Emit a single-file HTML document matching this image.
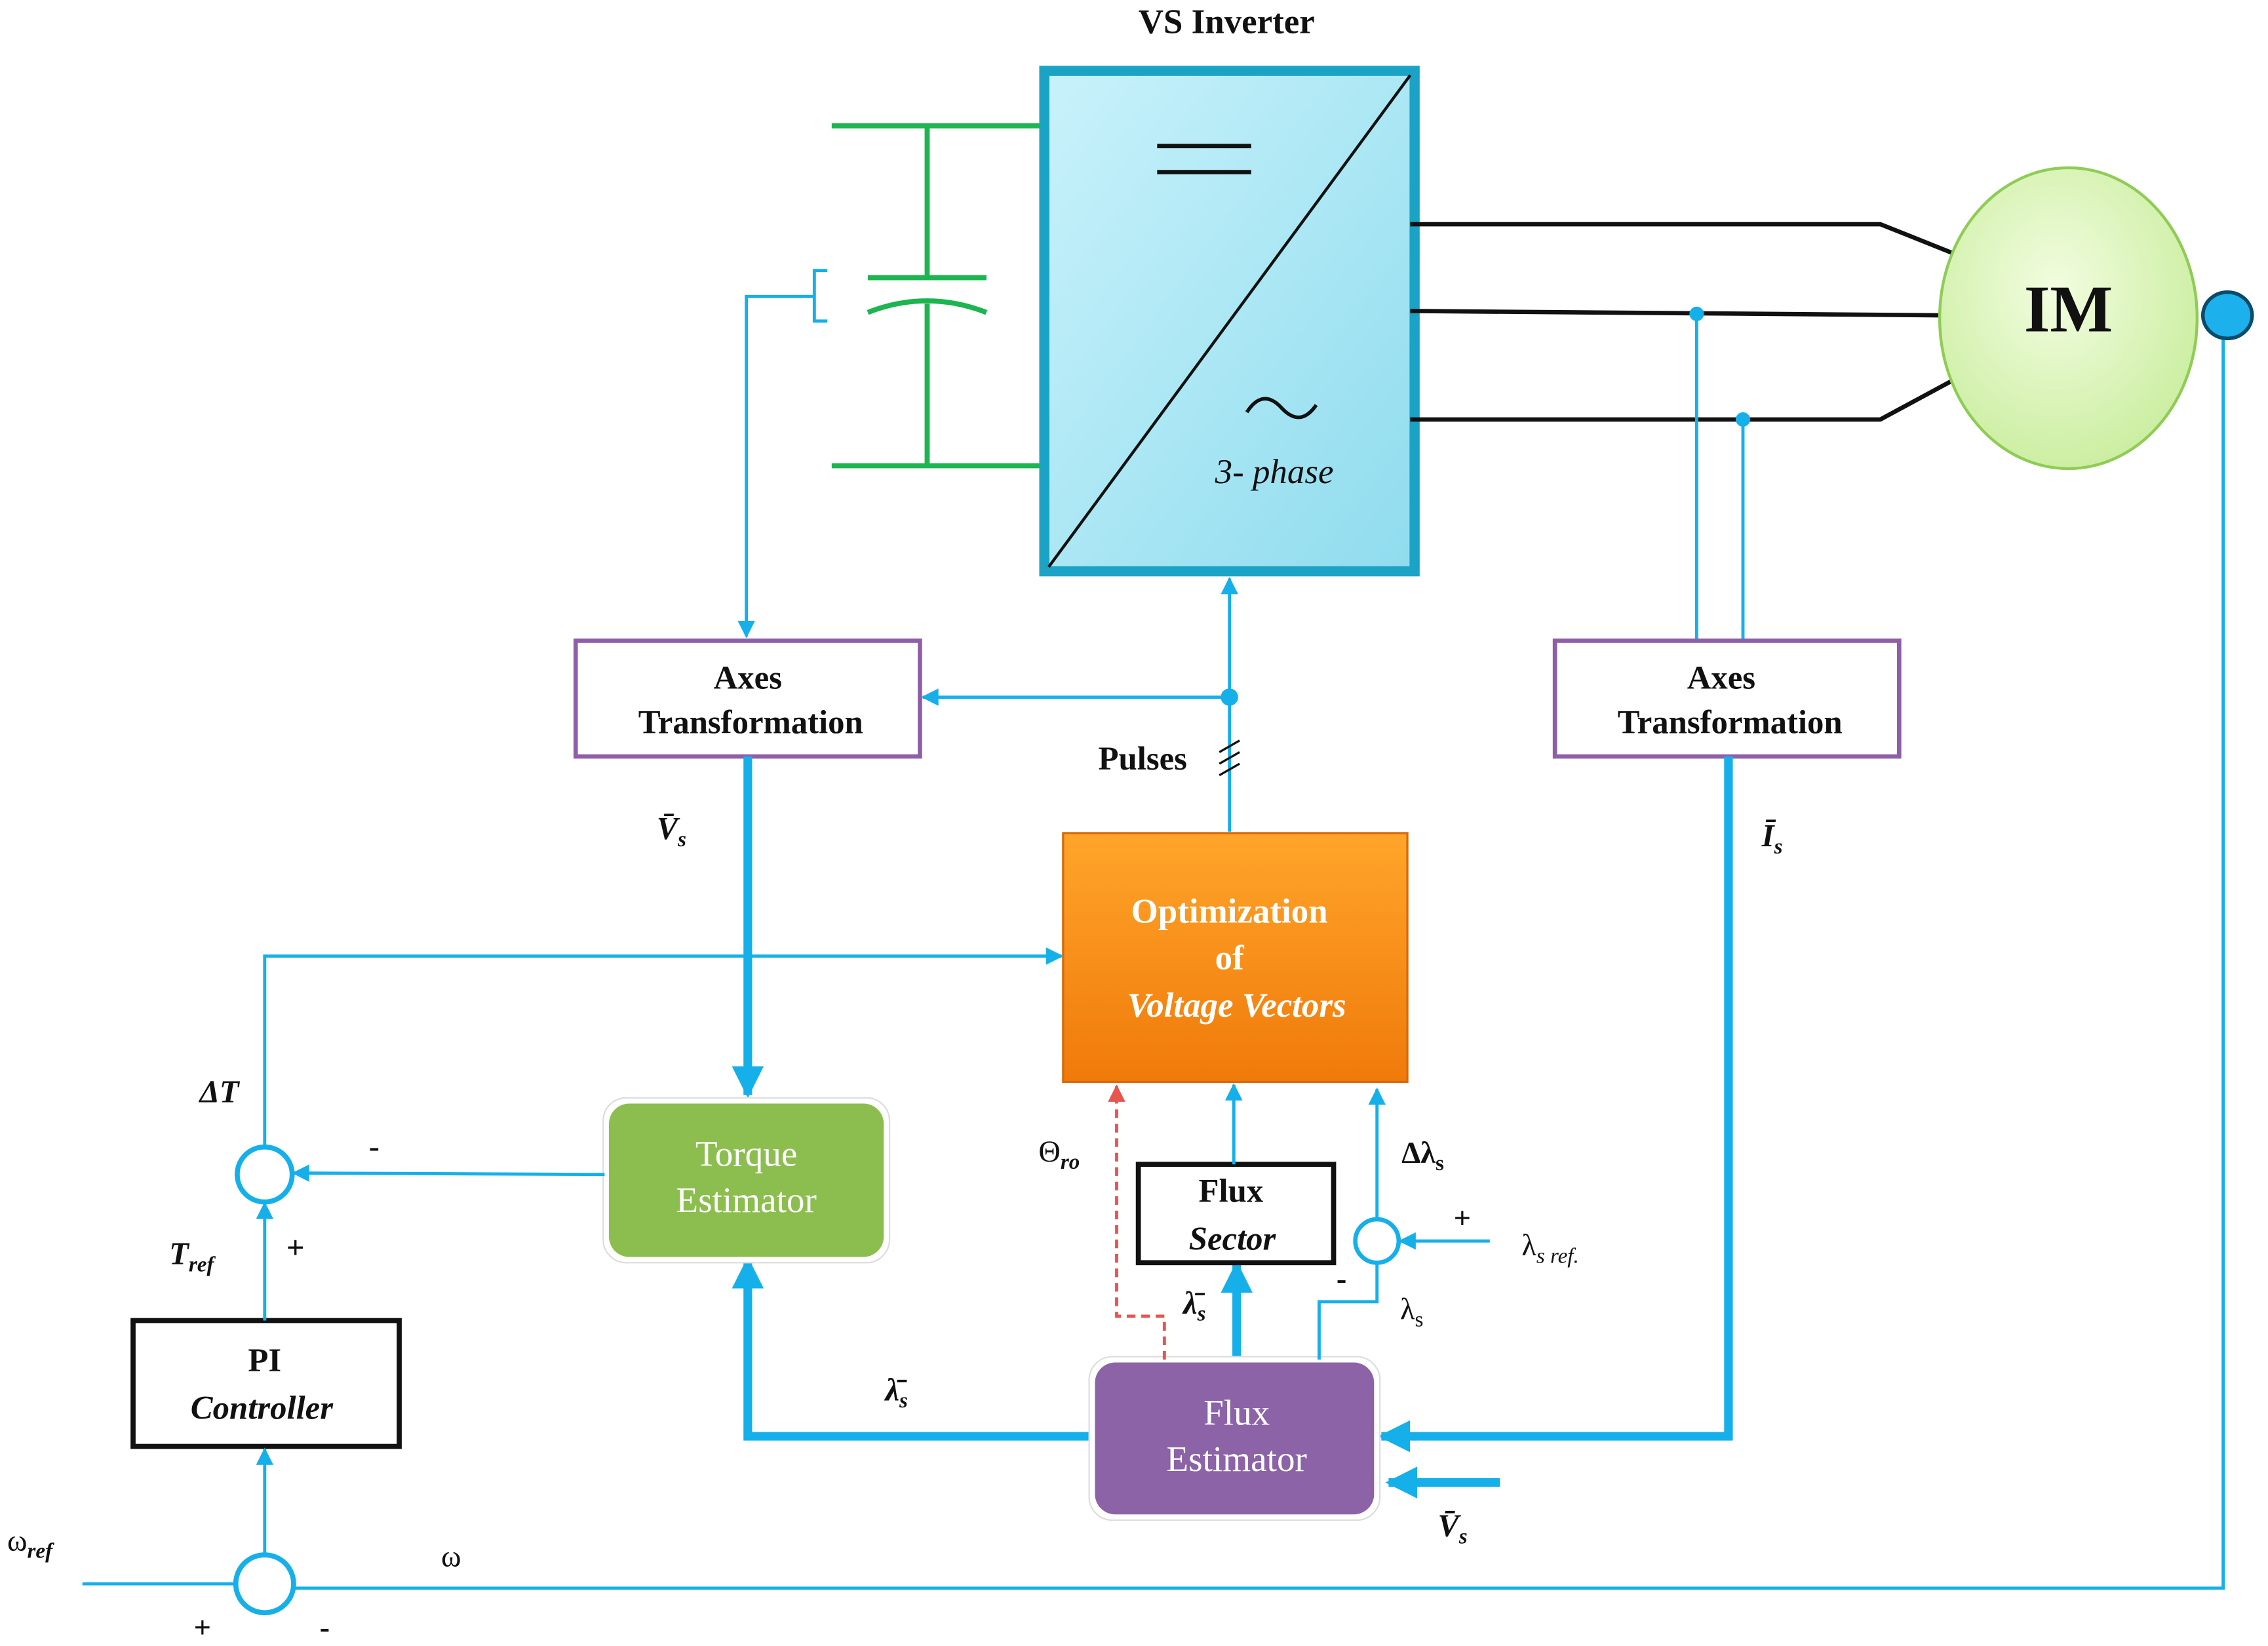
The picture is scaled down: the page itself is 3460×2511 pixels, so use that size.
<!DOCTYPE html>
<html><head><meta charset="utf-8"><style>html,body{margin:0;padding:0;background:#fff}svg{display:block}text{font-family:"Liberation Serif",serif}</style></head><body>
<svg width="3460" height="2511" viewBox="0 0 1568 1138" preserveAspectRatio="none" xmlns="http://www.w3.org/2000/svg">
<defs>
<linearGradient id="inv" x1="0" y1="0" x2="1" y2="1"><stop offset="0" stop-color="#c9f2fb"/><stop offset="1" stop-color="#8fdcee"/></linearGradient>
<linearGradient id="org" x1="0" y1="0" x2="0" y2="1"><stop offset="0" stop-color="#ffa52a"/><stop offset="1" stop-color="#f07a0a"/></linearGradient>
<radialGradient id="im" cx="0.45" cy="0.4" r="0.7"><stop offset="0" stop-color="#f2fde0"/><stop offset="1" stop-color="#c6ec98"/></radialGradient>
<marker id="a" viewBox="0 0 10 10" refX="9" refY="5" markerWidth="14" markerHeight="12" orient="auto" markerUnits="userSpaceOnUse"><path d="M0,0L10,5L0,10z" fill="#15b0ea"/></marker>
<marker id="at" viewBox="0 0 10 10" refX="9" refY="5" markerWidth="22" markerHeight="22" orient="auto" markerUnits="userSpaceOnUse"><path d="M0,0L10,5L0,10z" fill="#15b0ea"/></marker>
<marker id="ar" viewBox="0 0 10 10" refX="9" refY="5" markerWidth="14" markerHeight="12" orient="auto" markerUnits="userSpaceOnUse"><path d="M0,0L10,5L0,10z" fill="#e8544e"/></marker>
</defs>
<g fill="none" stroke="#15b0ea" stroke-width="2.2">
<g stroke="#1cb550" stroke-width="3.5"><path d="M575,87H720M575,322H720M641,87V192M641,210V322M600,192H682"/><path d="M600,216Q641,200 682,216"/></g>
<path d="M572,187H563V222H572M563,205H516V440" marker-end="url(#a)"/>
<rect x="722" y="49" width="256" height="346" fill="url(#inv)" stroke="#1ba3c6" stroke-width="7"/>
<path d="M725,392L975,52" stroke="#111" stroke-width="2"/>
<path d="M800,101H865M800,119H865" stroke="#111" stroke-width="3"/>
<path d="M862,285Q873,268 886,282T910,280" stroke="#111" stroke-width="2.5"/>
<g stroke="#111" stroke-width="3"><path d="M975,155H1300L1350,175M975,215L1342,218M975,290H1300L1350,263"/></g>
<ellipse cx="1430" cy="220" rx="89" ry="104" fill="url(#im)" stroke="#8fcc55" stroke-width="2"/>
<ellipse cx="1540" cy="218" rx="17" ry="16" fill="#1cb0ec" stroke="#0b4b6a" stroke-width="2.5"/>
<path d="M1173,217V442M1205,290V442"/>
<circle cx="1173" cy="217" r="5" fill="#15b0ea" stroke="none"/><circle cx="1205" cy="290" r="5" fill="#15b0ea" stroke="none"/>
<rect x="398" y="443" width="238" height="80" fill="#fff" stroke="#8e5fa8" stroke-width="3"/>
<rect x="1075" y="443" width="238" height="80" fill="#fff" stroke="#8e5fa8" stroke-width="3"/>
<path d="M850,575V400" marker-end="url(#a)"/>
<path d="M850,482H638" marker-end="url(#a)"/>
<circle cx="850" cy="482" r="6" fill="#15b0ea" stroke="none"/>
<path d="M843,520L857,512M843,528L857,520M843,536L857,528" stroke="#111" stroke-width="1.5"/>
<rect x="735" y="576" width="238" height="172" fill="url(#org)" stroke="#d86a0a" stroke-width="1.5"/>
<path d="M517,523V757" stroke-width="6" marker-end="url(#at)"/>
<path d="M1195,523V993H955" stroke-width="6" marker-end="url(#at)"/>
<path d="M757,993H517V871" stroke-width="6" marker-end="url(#at)"/>
<path d="M1037,1025H960" stroke-width="6" marker-end="url(#at)"/>
<path d="M855,938V874" stroke-width="6" marker-end="url(#at)"/>
<rect x="417" y="759" width="198" height="114" rx="16" fill="#fff" stroke="#ddd" stroke-width="1"/>
<rect x="421" y="763" width="190" height="106" rx="14" fill="#8cbe4f" stroke="none"/>
<rect x="753" y="938" width="201" height="113" rx="16" fill="#fff" stroke="#ddd" stroke-width="1"/>
<rect x="757" y="942" width="193" height="105" rx="14" fill="#8b63a6" stroke="none"/>
<rect x="787" y="805" width="135" height="68" fill="#fff" stroke="#111" stroke-width="3.5"/>
<path d="M853,805V750" marker-end="url(#a)"/>
<path d="M805,940V910H772V751" stroke="#e8544e" stroke-dasharray="6,4" marker-end="url(#ar)"/>
<path d="M912,940V900H952V874"/>
<circle cx="952" cy="858" r="15" fill="#fff" stroke-width="3"/>
<path d="M952,843V753" marker-end="url(#a)"/>
<path d="M1030,858H968" marker-end="url(#a)"/>
<path d="M418,812L203,811" marker-end="url(#a)"/>
<circle cx="183" cy="812" r="19" fill="#fff" stroke-width="3.5"/>
<path d="M183,793V661H734" marker-end="url(#a)"/>
<rect x="92" y="913" width="184" height="87" fill="#fff" stroke="#111" stroke-width="3.5"/>
<path d="M183,913V832" marker-end="url(#a)"/>
<circle cx="183" cy="1095" r="20" fill="#fff" stroke-width="3.5"/>
<path d="M183,1075V1002" marker-end="url(#a)"/>
<path d="M57,1095H163"/>
<path d="M203,1098H1537V235"/>
</g>
<g fill="#111">
<text x="848" y="23" font-size="24" font-weight="bold" text-anchor="middle">VS Inverter</text>
<text x="881" y="334" font-size="24" font-style="italic" text-anchor="middle">3- phase</text>
<text x="1430" y="229" font-size="46" font-weight="bold" text-anchor="middle">IM</text>
<text x="517" y="476" font-size="23" font-weight="bold" text-anchor="middle">Axes</text>
<text x="519" y="507" font-size="23" font-weight="bold" text-anchor="middle">Transformation</text>
<text x="1190" y="476" font-size="23" font-weight="bold" text-anchor="middle">Axes</text>
<text x="1196" y="507" font-size="23" font-weight="bold" text-anchor="middle">Transformation</text>
<text x="790" y="532" font-size="23" font-weight="bold" text-anchor="middle">Pulses</text>
<text x="454" y="580" font-size="22" font-weight="bold" font-style="italic">V̄<tspan font-size="15" dy="5">s</tspan></text>
<text x="1218" y="585" font-size="22" font-weight="bold" font-style="italic">Ī<tspan font-size="15" dy="5">s</tspan></text>
<g fill="#fff" font-weight="bold" font-size="24" text-anchor="middle"><text x="850" y="638">Optimization</text><text x="850" y="670">of</text><text x="855" y="703" font-style="italic">Voltage Vectors</text></g>
<g fill="#fff" font-size="25" text-anchor="middle"><text x="516" y="806">Torque</text><text x="516" y="838">Estimator</text><text x="855" y="985">Flux</text><text x="855" y="1017">Estimator</text></g>
<text x="851" y="831" font-size="23" font-weight="bold" text-anchor="middle">Flux</text>
<text x="852" y="864" font-size="23" font-weight="bold" font-style="italic" text-anchor="middle">Sector</text>
<text x="183" y="948" font-size="23" font-weight="bold" text-anchor="middle">PI</text>
<text x="181" y="981" font-size="23" font-weight="bold" font-style="italic" text-anchor="middle">Controller</text>
<text x="138" y="762" font-size="22" font-weight="bold" font-style="italic">ΔT</text>
<text x="255" y="800" font-size="22" font-weight="bold">-</text>
<text x="117" y="874" font-size="22" font-weight="bold" font-style="italic">T<tspan font-size="15" dy="5">ref</tspan></text>
<text x="198" y="870" font-size="22" font-weight="bold">+</text>
<text x="5" y="1072" font-size="21">ω<tspan font-size="15" dy="5" font-style="italic" font-weight="bold">ref</tspan></text>
<text x="305" y="1083" font-size="21">ω</text>
<text x="134" y="1132" font-size="21" font-weight="bold">+</text>
<text x="221" y="1132" font-size="21" font-weight="bold">-</text>
<text x="718" y="803" font-size="21">Θ<tspan font-size="15" dy="5" font-style="italic" font-weight="bold">ro</tspan></text>
<text x="969" y="804" font-size="21" font-weight="bold">Δλ<tspan font-size="15" dy="5">s</tspan></text>
<text x="1005" y="849" font-size="21" font-weight="bold">+</text>
<text x="1052" y="868" font-size="21">λ<tspan font-size="15" dy="5" font-style="italic">s ref.</tspan></text>
<text x="924" y="891" font-size="21" font-weight="bold">-</text>
<text x="968" y="912" font-size="21">λ<tspan font-size="15" dy="5">s</tspan></text>
<text x="818" y="908" font-size="22" font-weight="bold" font-style="italic">λ̄<tspan font-size="15" dy="5">s</tspan></text>
<text x="612" y="968" font-size="22" font-weight="bold" font-style="italic">λ̄<tspan font-size="15" dy="5">s</tspan></text>
<text x="994" y="1062" font-size="22" font-weight="bold" font-style="italic">V̄<tspan font-size="15" dy="5">s</tspan></text>
</g>
</svg>
</body></html>
